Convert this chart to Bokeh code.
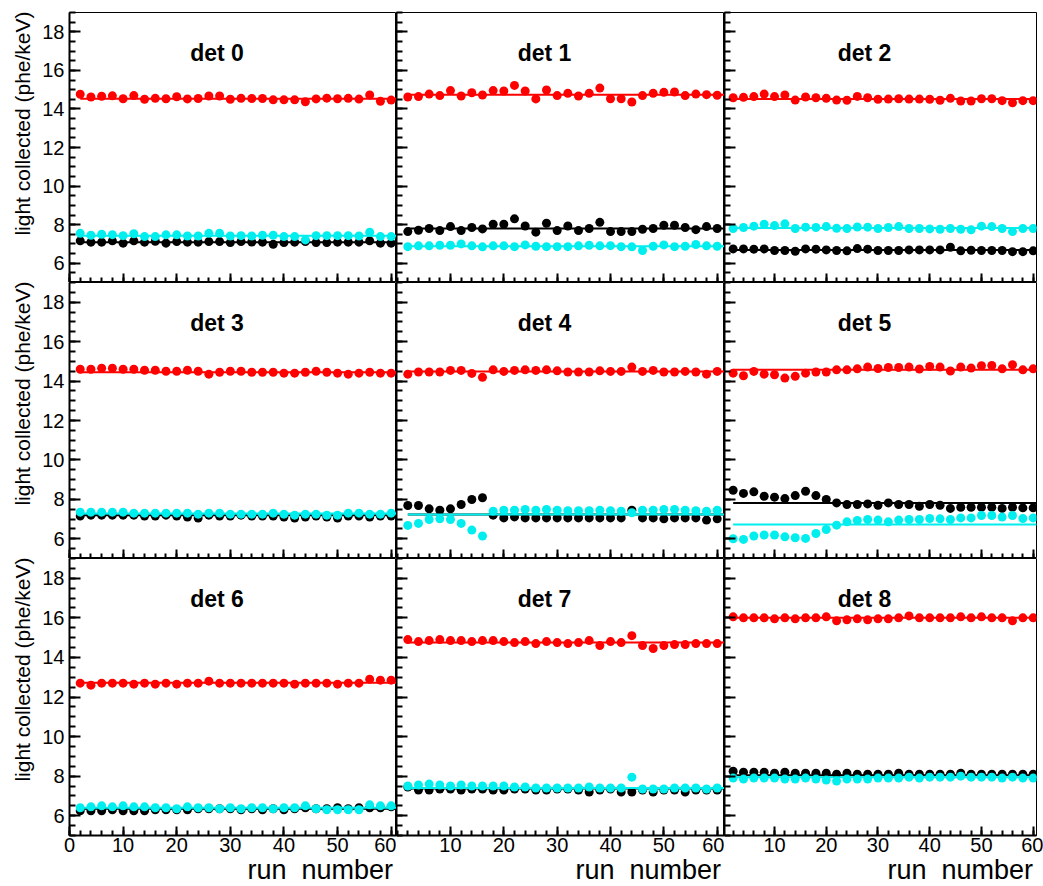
import numpy as np
from bokeh.plotting import figure
from bokeh.layouts import column, row
from bokeh.models import FixedTicker, Range1d, Title, Label
from bokeh.embed import file_html
from bokeh.resources import INLINE

# ---------------- data ----------------
runs = list(range(2, 61, 2))
det_names = ["det 0", "det 1", "det 2", "det 3", "det 4", "det 5", "det 6", "det 7", "det 8"]

d0_red = [14.76, 14.62, 14.66, 14.68, 14.53, 14.69, 14.50, 14.55, 14.53, 14.63, 14.52, 14.54, 14.67, 14.67, 14.50,
          14.55, 14.54, 14.54, 14.47, 14.47, 14.47, 14.37, 14.52, 14.56, 14.53, 14.55, 14.51, 14.72, 14.40, 14.46]
d0_black = [7.16, 7.09, 7.09, 7.16, 7.04, 7.16, 7.09, 7.14, 7.04, 7.12, 7.09, 7.09, 7.12, 7.12, 7.07,
            7.12, 7.10, 7.09, 6.98, 7.07, 7.09, 7.12, 7.07, 7.07, 7.09, 7.09, 7.09, 7.16, 7.04, 7.04]
d0_cyan = [7.55, 7.45, 7.50, 7.48, 7.43, 7.53, 7.38, 7.38, 7.47, 7.47, 7.41, 7.41, 7.55, 7.55, 7.41,
           7.43, 7.41, 7.45, 7.45, 7.38, 7.38, 7.21, 7.43, 7.43, 7.43, 7.43, 7.41, 7.61, 7.38, 7.38]

d1_red = [14.62, 14.64, 14.77, 14.69, 14.95, 14.67, 14.84, 14.72, 14.95, 14.93, 15.22, 14.93, 14.52, 14.98, 14.69,
          14.81, 14.67, 14.81, 15.08, 14.53, 14.53, 14.36, 14.69, 14.81, 14.86, 14.88, 14.69, 14.77, 14.74, 14.71]
d1_black = [7.64, 7.71, 7.80, 7.69, 7.90, 7.69, 7.85, 7.78, 8.02, 8.02, 8.30, 7.93, 7.61, 8.07, 7.69,
            7.93, 7.69, 7.80, 8.12, 7.64, 7.64, 7.64, 7.76, 7.80, 7.97, 7.97, 7.85, 7.74, 7.90, 7.80]
d1_cyan = [6.86, 6.90, 6.90, 6.93, 6.93, 7.00, 6.90, 6.85, 6.90, 6.90, 6.86, 6.95, 6.88, 6.86, 6.86,
           6.86, 6.90, 6.93, 6.90, 6.91, 6.86, 6.85, 6.66, 6.88, 6.95, 6.86, 6.88, 6.97, 6.90, 6.88]

d2_red = [14.58, 14.60, 14.64, 14.77, 14.64, 14.72, 14.46, 14.62, 14.58, 14.55, 14.46, 14.45, 14.65, 14.58, 14.50,
          14.51, 14.53, 14.51, 14.51, 14.50, 14.45, 14.55, 14.41, 14.41, 14.53, 14.53, 14.43, 14.32, 14.43, 14.43]
d2_black = [6.74, 6.74, 6.73, 6.74, 6.66, 6.66, 6.62, 6.74, 6.73, 6.69, 6.66, 6.64, 6.76, 6.73, 6.66,
            6.66, 6.66, 6.69, 6.69, 6.69, 6.69, 6.83, 6.64, 6.67, 6.66, 6.66, 6.66, 6.60, 6.60, 6.64]
d2_cyan = [7.80, 7.85, 7.92, 8.02, 7.95, 8.04, 7.80, 7.87, 7.85, 7.90, 7.81, 7.80, 7.88, 7.87, 7.80,
           7.85, 7.90, 7.80, 7.80, 7.78, 7.76, 7.80, 7.76, 7.73, 7.92, 7.90, 7.80, 7.64, 7.80, 7.80]

d3_red = [14.60, 14.60, 14.65, 14.65, 14.60, 14.60, 14.55, 14.55, 14.50, 14.50, 14.55, 14.50, 14.35, 14.45, 14.50,
          14.50, 14.45, 14.45, 14.45, 14.40, 14.40, 14.45, 14.50, 14.45, 14.40, 14.35, 14.40, 14.45, 14.40, 14.40]
d3_black = [7.15, 7.20, 7.20, 7.20, 7.20, 7.20, 7.15, 7.15, 7.20, 7.15, 7.10, 7.05, 7.20, 7.15, 7.15,
            7.20, 7.15, 7.15, 7.15, 7.10, 7.05, 7.10, 7.15, 7.10, 7.05, 7.15, 7.15, 7.10, 7.15, 7.15]
d3_cyan = [7.35, 7.35, 7.35, 7.35, 7.35, 7.30, 7.30, 7.30, 7.30, 7.30, 7.30, 7.25, 7.30, 7.30, 7.25,
           7.25, 7.25, 7.25, 7.30, 7.25, 7.20, 7.25, 7.25, 7.20, 7.20, 7.30, 7.30, 7.25, 7.25, 7.30]

d4_red = [14.35, 14.46, 14.46, 14.46, 14.54, 14.54, 14.39, 14.19, 14.57, 14.49, 14.54, 14.57, 14.54, 14.57, 14.52,
          14.46, 14.46, 14.46, 14.52, 14.49, 14.49, 14.71, 14.49, 14.54, 14.46, 14.46, 14.49, 14.46, 14.35, 14.49]
d4_black = [7.69, 7.69, 7.52, 7.45, 7.52, 7.74, 7.99, 8.08, 7.20, 7.06, 7.11, 7.06, 7.06, 7.06, 7.06,
            7.06, 7.06, 7.06, 7.06, 7.06, 7.06, 7.45, 7.06, 7.06, 7.01, 7.06, 7.06, 7.06, 6.95, 7.01]
d4_cyan = [6.68, 6.78, 6.98, 7.01, 6.98, 6.78, 6.44, 6.14, 7.40, 7.45, 7.45, 7.49, 7.45, 7.49, 7.45,
           7.42, 7.42, 7.42, 7.45, 7.42, 7.40, 7.32, 7.45, 7.45, 7.49, 7.49, 7.45, 7.42, 7.40, 7.45]

d5_red = [14.40, 14.27, 14.49, 14.35, 14.32, 14.15, 14.24, 14.40, 14.46, 14.46, 14.57, 14.57, 14.62, 14.71, 14.64,
          14.69, 14.69, 14.71, 14.61, 14.74, 14.71, 14.51, 14.71, 14.66, 14.78, 14.79, 14.62, 14.83, 14.57, 14.62]
d5_black = [8.46, 8.30, 8.38, 8.16, 8.11, 8.04, 8.19, 8.41, 8.19, 7.99, 7.82, 7.74, 7.74, 7.77, 7.70,
            7.82, 7.74, 7.74, 7.65, 7.74, 7.70, 7.54, 7.60, 7.60, 7.60, 7.60, 7.54, 7.60, 7.57, 7.57]
d5_cyan = [6.00, 5.97, 6.14, 6.19, 6.19, 6.10, 6.05, 6.02, 6.27, 6.47, 6.69, 6.86, 6.93, 6.98, 6.95,
           6.86, 6.95, 6.98, 6.98, 7.03, 7.01, 6.98, 7.06, 7.06, 7.18, 7.18, 7.10, 7.18, 7.03, 7.06]

d6_red = [12.70, 12.60, 12.70, 12.70, 12.70, 12.65, 12.70, 12.65, 12.70, 12.65, 12.70, 12.70, 12.80, 12.70, 12.70,
          12.70, 12.70, 12.70, 12.70, 12.70, 12.65, 12.70, 12.70, 12.70, 12.65, 12.70, 12.70, 12.90, 12.85, 12.85]
d6_black = [6.25, 6.25, 6.25, 6.30, 6.25, 6.25, 6.25, 6.30, 6.30, 6.30, 6.30, 6.35, 6.35, 6.35, 6.35,
            6.30, 6.35, 6.30, 6.35, 6.30, 6.35, 6.40, 6.35, 6.35, 6.40, 6.35, 6.40, 6.40, 6.40, 6.45]
d6_cyan = [6.40, 6.45, 6.50, 6.45, 6.50, 6.45, 6.45, 6.40, 6.40, 6.35, 6.45, 6.40, 6.40, 6.35, 6.40,
           6.35, 6.40, 6.40, 6.35, 6.40, 6.40, 6.50, 6.35, 6.30, 6.30, 6.30, 6.30, 6.55, 6.50, 6.50]

d7_red = [14.90, 14.80, 14.85, 14.90, 14.85, 14.85, 14.80, 14.85, 14.85, 14.80, 14.75, 14.80, 14.70, 14.80, 14.75,
          14.70, 14.75, 14.85, 14.60, 14.80, 14.75, 15.10, 14.60, 14.45, 14.60, 14.65, 14.65, 14.70, 14.70, 14.70]
d7_black = [7.45, 7.30, 7.30, 7.35, 7.35, 7.30, 7.35, 7.35, 7.30, 7.30, 7.35, 7.35, 7.30, 7.30, 7.35,
            7.35, 7.30, 7.20, 7.30, 7.35, 7.20, 7.20, 7.30, 7.20, 7.30, 7.30, 7.20, 7.30, 7.30, 7.30]
d7_cyan = [7.50, 7.55, 7.60, 7.55, 7.50, 7.55, 7.50, 7.50, 7.50, 7.50, 7.45, 7.45, 7.40, 7.40, 7.40,
           7.40, 7.40, 7.45, 7.40, 7.40, 7.40, 7.95, 7.35, 7.35, 7.35, 7.40, 7.40, 7.40, 7.35, 7.40]

d8_red = [16.05, 16.00, 16.00, 16.00, 15.95, 16.00, 15.95, 16.00, 16.00, 16.05, 15.85, 15.90, 15.95, 15.90, 15.95,
          15.95, 16.00, 16.10, 16.00, 16.00, 16.00, 16.00, 16.05, 16.00, 16.05, 16.00, 16.00, 15.85, 16.00, 16.00]
d8_black = [8.25, 8.20, 8.20, 8.20, 8.15, 8.20, 8.15, 8.15, 8.15, 8.15, 8.10, 8.15, 8.10, 8.10, 8.10,
            8.10, 8.15, 8.10, 8.10, 8.10, 8.10, 8.10, 8.15, 8.10, 8.10, 8.10, 8.10, 8.10, 8.10, 8.10]
d8_cyan = [7.90, 7.85, 7.90, 7.90, 7.90, 7.85, 7.85, 7.90, 7.85, 7.80, 7.75, 7.85, 7.85, 7.85, 7.90,
           7.90, 7.90, 7.95, 7.90, 7.95, 7.95, 7.95, 8.00, 7.95, 7.95, 7.95, 7.90, 7.95, 7.90, 7.90]

fit_red = [14.53, 14.74, 14.51, 14.45, 14.49, 14.57, 12.72, 14.75, 16.00]
fit_black = [7.09, 7.80, 6.69, 7.20, 7.23, 7.82, 6.35, 7.38, 8.05]
fit_cyan = [7.42, 6.88, 7.83, 7.28, 7.23, 6.73, 6.40, 7.40, 7.95]

reds = [d0_red, d1_red, d2_red, d3_red, d4_red, d5_red, d6_red, d7_red, d8_red]
blacks = [d0_black, d1_black, d2_black, d3_black, d4_black, d5_black, d6_black, d7_black, d8_black]
cyans = [d0_cyan, d1_cyan, d2_cyan, d3_cyan, d4_cyan, d5_cyan, d6_cyan, d7_cyan, d8_cyan]

x_major_first = [0, 10, 20, 30, 40, 50, 60]
x_major_other = [10, 20, 30, 40, 50, 60]
x_minor = list(range(0, 62, 2))
y_major = [6, 8, 10, 12, 14, 16, 18]
y_minor = [5 + 0.5 * k for k in range(29)]
y_title = "light collected (phe/keV)"
x_title = "run \u00a0number"

# ---------------- layout ----------------
FONT = "Liberation Sans"
RED, BLACK, CYAN = "#ff0000", "#000000", "#00eeee"
x_ranges = [(0, 61.0), (-0.12, 61.37), (0.33, 60.64)]
frame_w = [327, 328, 312]
frame_h = [270, 276, 277]
LEFT, RIGHT, TOP, BOTTOM = 69, 7, 12, 51
XTITLE_W = 146  # width of the x-title text in px


def panel(i):
    r, c = divmod(i, 3)
    bl = LEFT if c == 0 else 0
    br = RIGHT if c == 2 else 0
    bt = TOP if r == 0 else 0
    bb = BOTTOM if r == 2 else 0
    p = figure(frame_width=frame_w[c], frame_height=frame_h[r],
               x_range=Range1d(*x_ranges[c]), y_range=Range1d(5, 19),
               output_backend="svg", toolbar_location=None, title=None,
               min_border_left=bl, min_border_right=br, min_border_top=bt, min_border_bottom=bb)
    p.grid.visible = False
    p.background_fill_color = "white"
    p.border_fill_color = "white"
    p.outline_line_color = "black"
    p.outline_line_width = 1

    xa = p.xaxis[0]
    xa.ticker = FixedTicker(ticks=x_major_first if c == 0 else x_major_other, minor_ticks=x_minor)
    xa.major_tick_in, xa.major_tick_out = 9, 0
    xa.minor_tick_in, xa.minor_tick_out = 5, 0
    xa.axis_line_width = 2
    xa.major_tick_line_width = 2
    xa.minor_tick_line_width = 2
    xa.major_label_text_font = FONT
    if r == 2:
        xa.major_label_text_font_size = "20px"
        xa.major_label_text_color = "black"
        xa.major_label_standoff = 2
    else:
        xa.major_label_text_font_size = "0px"
        xa.major_label_text_color = None
        xa.major_label_standoff = 0

    ya = p.yaxis[0]
    ya.ticker = FixedTicker(ticks=y_major, minor_ticks=y_minor)
    ya.major_tick_in, ya.major_tick_out = 11, 0
    ya.minor_tick_in, ya.minor_tick_out = 6, 0
    ya.axis_line_width = 2
    ya.major_tick_line_width = 2
    ya.minor_tick_line_width = 2
    ya.major_label_text_font = FONT
    if c == 0:
        ya.major_label_text_font_size = "20px"
        ya.major_label_text_color = "black"
        ya.major_label_standoff = 5
    else:
        ya.major_label_text_font_size = "0px"
        ya.major_label_text_color = None
        ya.major_label_standoff = 0

    for vals, fit, col in ((reds[i], fit_red[i], RED), (blacks[i], fit_black[i], BLACK),
                           (cyans[i], fit_cyan[i], CYAN)):
        p.scatter(runs, vals, size=9, color=col, line_width=0)
        p.line([runs[0], 62], [fit, fit], line_color=col, line_width=2)

    p.add_layout(Label(x=frame_w[c] / 2 - 16, y=frame_h[r] - 40, x_units="screen", y_units="screen",
                       text=det_names[i], text_align="center", text_baseline="alphabetic",
                       text_font=FONT, text_font_style="bold", text_font_size="23px", text_color="black"))
    if c == 0:
        p.add_layout(Title(text=y_title, align="right", offset=-1, standoff=12,
                           text_font=FONT, text_font_style="normal", text_font_size="21px",
                           text_color="black"), "left")
    if r == 2:
        p.add_layout(Title(text=x_title, align="left", offset=frame_w[c] - 3 - XTITLE_W, standoff=-3,
                           text_font=FONT, text_font_style="normal", text_font_size="27px",
                           text_color="black"), "below")
    return p


figs = [panel(i) for i in range(9)]
layout = column(row(*figs[0:3], spacing=0), row(*figs[3:6], spacing=0), row(*figs[6:9], spacing=0), spacing=0)

html = file_html(layout, INLINE, title="light collected")
html = html.replace("<head>", "<head><style>html,body{overflow:hidden;}</style>", 1)
open("out.html", "w").write(html)
